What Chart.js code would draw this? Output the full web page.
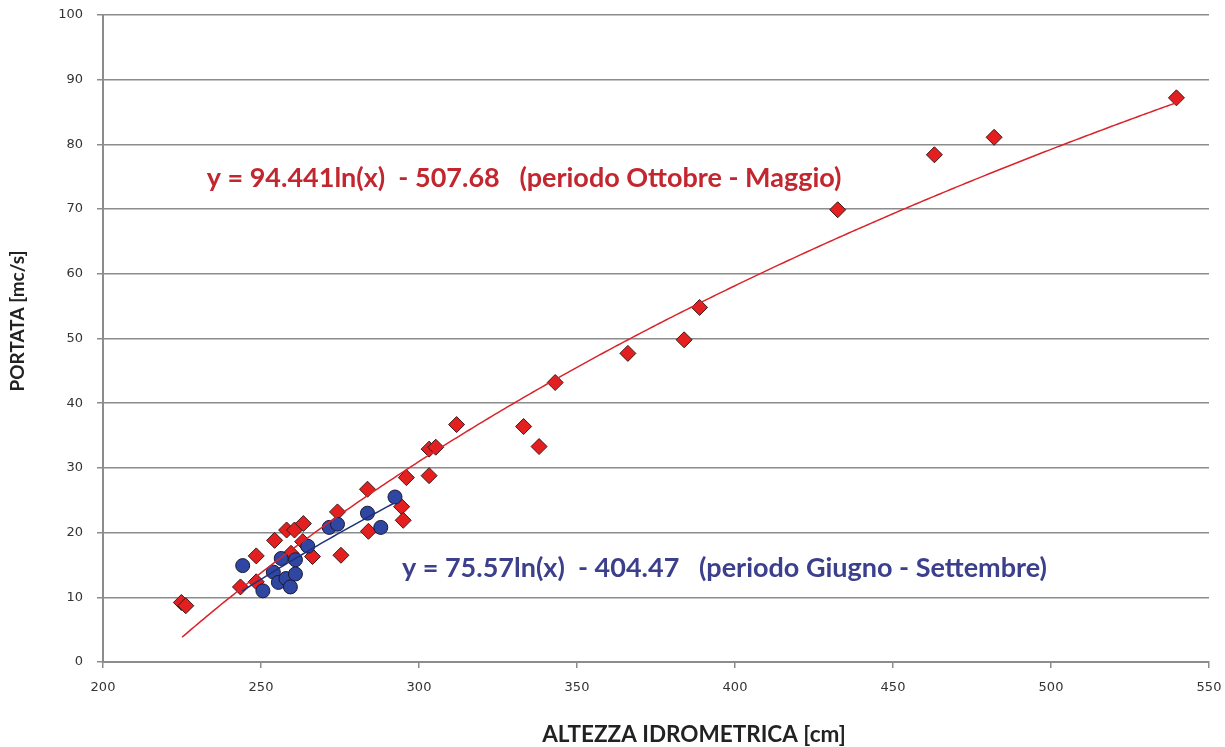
<!DOCTYPE html>
<html>
<head>
<meta charset="utf-8">
<script src="https://cdn.jsdelivr.net/npm/chart.js@4"></script>
<style>
  body { margin: 0; background: #fff; }
  #wrap { width: 1225px; height: 747px; }
</style>
</head>
<body>
<div id="wrap"><canvas id="grafico" width="1225" height="747"></canvas></div>
<script>
// Ottobre - Maggio (rossi)
const altezzaInverno = [224.8, 226.2, 243.5, 248.5, 248.5, 254.3, 258.1, 259.5, 260.6, 263.2, 263.4, 266.3, 274.2, 275.3, 283.7, 284.0, 294.5, 295.0, 296.0, 303.2, 303.2, 305.3, 311.9, 333.1, 338.0, 343.1, 366.1, 383.9, 388.8, 432.5, 463.1, 482.0, 539.7];
const portataInverno = [9.2, 8.7, 11.6, 16.4, 12.4, 18.8, 20.4, 16.8, 20.4, 18.6, 21.4, 16.3, 23.2, 16.5, 26.7, 20.2, 24.0, 21.9, 28.5, 28.8, 32.9, 33.2, 36.7, 36.4, 33.3, 43.2, 47.7, 49.8, 54.8, 69.9, 78.4, 81.1, 87.2];

// Giugno - Settembre (blu)
const altezzaEstate = [244.2, 250.6, 253.9, 255.5, 256.4, 257.9, 259.3, 260.9, 260.9, 264.8, 271.6, 274.2, 283.7, 287.9, 292.4];
const portataEstate = [14.9, 11.0, 13.9, 12.3, 16.0, 12.9, 11.6, 15.8, 13.6, 17.9, 20.8, 21.3, 23.0, 20.8, 25.5];

// coefficienti delle linee di tendenza logaritmiche (come da etichette)
const coeffInverno = [94.441, -507.68];
const coeffEstate = [75.57, -404.47];
const rangeInverno = [225, 541];
const rangeEstate = [244, 292.5];

const xTicks = [200, 250, 300, 350, 400, 450, 500, 550];
const yTicks = [0, 10, 20, 30, 40, 50, 60, 70, 80, 90, 100];

function tendenza(c, r) {
  const pts = [];
  for (let x = r[0]; x <= r[1]; x += 1) pts.push({ x: x, y: c[0] * Math.log(x) + c[1] });
  return pts;
}
function punti(xs, ys) {
  return xs.map((x, i) => ({ x: x, y: ys[i] }));
}

// etichette delle equazioni e titoli degli assi
const etichette = {
  id: 'etichette',
  afterDatasetsDraw(chart) {
    const ctx = chart.ctx;
    const sx = chart.scales.x, sy = chart.scales.y;
    ctx.save();
    ctx.font = 'bold 27px Lato';
    ctx.textBaseline = 'middle';
    ctx.fillStyle = '#c2262e';
    ctx.fillText('y = 94.441ln(x)  - 507.68   (periodo Ottobre - Maggio)', sx.getPixelForValue(232.8), sy.getPixelForValue(74.8));
    ctx.fillStyle = '#3b3f8c';
    ctx.fillText('y = 75.57ln(x)  - 404.47   (periodo Giugno - Settembre)', sx.getPixelForValue(294.6), sy.getPixelForValue(14.5));

    ctx.fillStyle = '#222';
    ctx.textAlign = 'center';
    ctx.font = 'bold 22.5px Lato';
    ctx.fillText('ALTEZZA IDROMETRICA [cm]', 694, 735);
    ctx.translate(18, 321);
    ctx.rotate(-Math.PI / 2);
    ctx.font = 'bold 19px Lato';
    ctx.fillText('PORTATA [mc/s]', 0, 0);
    ctx.restore();
  }
};

const ctxGrafico = document.getElementById('grafico').getContext('2d');
new Chart(ctxGrafico, {
  type: 'scatter',
  data: {
    datasets: [
      {
        label: 'tendenza Ottobre - Maggio',
        data: tendenza(coeffInverno, rangeInverno),
        showLine: true,
        borderColor: '#d9242b',
        borderWidth: 1.5,
        pointRadius: 0
      },
      {
        label: 'tendenza Giugno - Settembre',
        data: tendenza(coeffEstate, rangeEstate),
        showLine: true,
        borderColor: '#1f2f7c',
        borderWidth: 1.5,
        pointRadius: 0
      },
      {
        label: 'Giugno - Settembre',
        data: punti(altezzaEstate, portataEstate),
        pointStyle: 'circle',
        pointRadius: 7,
        backgroundColor: '#2f46a3',
        borderColor: '#1a1a33',
        borderWidth: 1
      },
      {
        label: 'Ottobre - Maggio',
        data: punti(altezzaInverno, portataInverno),
        pointStyle: 'rectRot',
        pointRadius: 8,
        backgroundColor: '#e3201f',
        borderColor: '#3a1a1a',
        borderWidth: 1
      }
    ]
  },
  options: {
    responsive: false,
    animation: false,
    layout: { padding: { top: 15, right: 16, left: 0, bottom: 0 } },
    plugins: {
      legend: { display: false },
      tooltip: { enabled: false }
    },
    scales: {
      x: {
        type: 'linear',
        min: 200,
        max: 550,
        afterBuildTicks: (ax) => { ax.ticks = xTicks.map(v => ({ value: v })); },
        afterFit: (ax) => { ax.height = 85; ax.paddingRight = 0; ax.paddingLeft = 0; },
        grid: { drawOnChartArea: false, color: '#8c8c8c', lineWidth: 1.5, tickLength: 6 },
        border: { color: '#8c8c8c', width: 2 },
        ticks: { color: '#333', font: { family: 'DejaVu Sans', size: 13 }, padding: 12, maxRotation: 0 }
      },
      y: {
        min: 0,
        max: 100,
        afterBuildTicks: (ax) => { ax.ticks = yTicks.map(v => ({ value: v })); },
        afterFit: (ax) => { ax.width = 103; ax.paddingTop = 0; ax.paddingBottom = 0; },
        grid: { color: '#8c8c8c', lineWidth: 1.5, tickLength: 6 },
        border: { color: '#8c8c8c', width: 2 },
        ticks: { color: '#333', font: { family: 'DejaVu Sans', size: 13 }, padding: 14 }
      }
    }
  },
  plugins: [etichette]
});
</script>
</body>
</html>
